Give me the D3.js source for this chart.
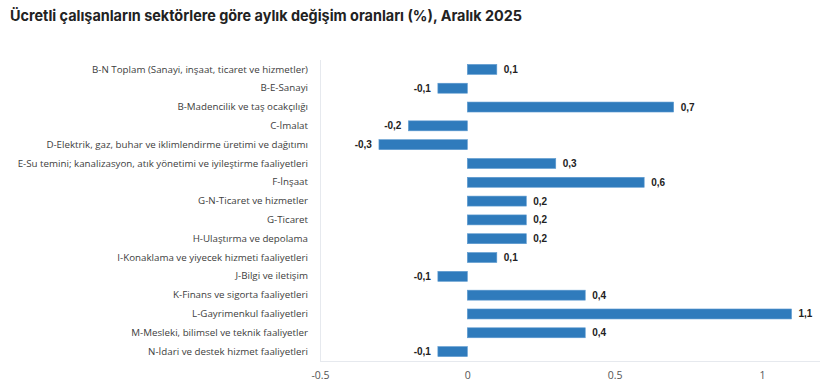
<!DOCTYPE html>
<html><head><meta charset="utf-8">
<script src="https://cdn.jsdelivr.net/npm/d3@7"></script>
<style>
body{margin:0;background:#fff;}
svg{display:block;}
</style></head>
<body>
<svg id="c" width="820" height="385"></svg>
<script>
const categories = [
  "B-N Toplam (Sanayi, inşaat, ticaret ve hizmetler)",
  "B-E-Sanayi",
  "B-Madencilik ve taş ocakçılığı",
  "C-İmalat",
  "D-Elektrik, gaz, buhar ve iklimlendirme üretimi ve dağıtımı",
  "E-Su temini; kanalizasyon, atık yönetimi ve iyileştirme faaliyetleri",
  "F-İnşaat",
  "G-N-Ticaret ve hizmetler",
  "G-Ticaret",
  "H-Ulaştırma ve depolama",
  "I-Konaklama ve yiyecek hizmeti faaliyetleri",
  "J-Bilgi ve iletişim",
  "K-Finans ve sigorta faaliyetleri",
  "L-Gayrimenkul faaliyetleri",
  "M-Mesleki, bilimsel ve teknik faaliyetler",
  "N-İdari ve destek hizmet faaliyetleri"
];
const values = [0.1, -0.1, 0.7, -0.2, -0.3, 0.3, 0.6, 0.2, 0.2, 0.2, 0.1, -0.1, 0.4, 1.1, 0.4, -0.1];
const tickValues = [-0.5, 0, 0.5, 1];
const tickLabels = ["-0.5", "0", "0.5", "1"];
const title = "Ücretli çalışanların sektörlere göre aylık değişim oranları (%), Aralık 2025";

(function () {
const svg = d3.select("#c");
const mL = 320, mR = 821, mT = 60, mB = 361;

const x = d3.scaleLinear().domain([-0.5, 1.2]).range([mL, mR]);
const y = d3.scaleBand().domain(categories).range([mT, mB]).paddingInner(0.47).paddingOuter(0.235);

const t = svg.append("text").attr("x", 10).attr("y", 21)
  .attr("font-family", "Inter, 'Noto Sans', sans-serif").attr("font-weight", 700)
  .attr("font-size", 14.8).attr("fill", "#222").text(title);
const tw = t.node().getComputedTextLength();
if (tw > 512) t.attr("textLength", 512).attr("lengthAdjust", "spacingAndGlyphs");

svg.append("line").attr("x1", mL + 0.5).attr("x2", mL + 0.5).attr("y1", mT).attr("y2", mB)
  .attr("stroke", "#e6e9ee").attr("stroke-width", 1);
svg.append("line").attr("x1", mL).attr("x2", 820).attr("y1", mB + 0.5).attr("y2", mB + 0.5)
  .attr("stroke", "#e6e9ee").attr("stroke-width", 1);

const xAxis = d3.axisBottom(x).tickValues(tickValues)
  .tickFormat((d, i) => tickLabels[i]).tickSize(0).tickPadding(10);
const gx = svg.append("g").attr("transform", `translate(0,${mB + 1})`).call(xAxis);
gx.select(".domain").remove();
gx.selectAll("text").attr("font-family", "'Open Sans', 'Noto Sans', sans-serif")
  .attr("font-size", 10.5).attr("fill", "#555");

const yAxis = d3.axisLeft(y).tickSize(0).tickPadding(12);
const gy = svg.append("g").attr("transform", `translate(${mL},0)`).call(yAxis);
gy.select(".domain").remove();
const yt = gy.selectAll("text").attr("font-family", "'Open Sans', 'Noto Sans', sans-serif")
  .attr("font-size", 11).attr("fill", "#404040");
const w0 = yt.nodes()[0].getComputedTextLength();
yt.attr("font-size", 11 * 216 / w0);

svg.append("g").selectAll("rect").data(values).join("rect")
  .attr("x", d => x(Math.min(0, d)))
  .attr("width", d => Math.abs(x(d) - x(0)))
  .attr("y", (d, i) => y(categories[i]))
  .attr("height", y.bandwidth())
  .attr("fill", "#2f7bbc")
  .attr("stroke", "#5e9ad0").attr("stroke-width", 0.6);

svg.append("g").selectAll("text").data(values).join("text")
  .attr("x", d => d >= 0 ? x(d) + 7 : x(d) - 7)
  .attr("y", (d, i) => y(categories[i]) + y.bandwidth() / 2)
  .attr("dy", "0.35em")
  .attr("text-anchor", d => d >= 0 ? "start" : "end")
  .attr("font-family", "'Liberation Sans', Arial, sans-serif")
  .attr("font-weight", 700).attr("font-size", 10).attr("fill", "#222")
  .text(d => d3.format(".1f")(d).replace(".", ",").replace("−", "-"));
})();
</script>
</body></html>
